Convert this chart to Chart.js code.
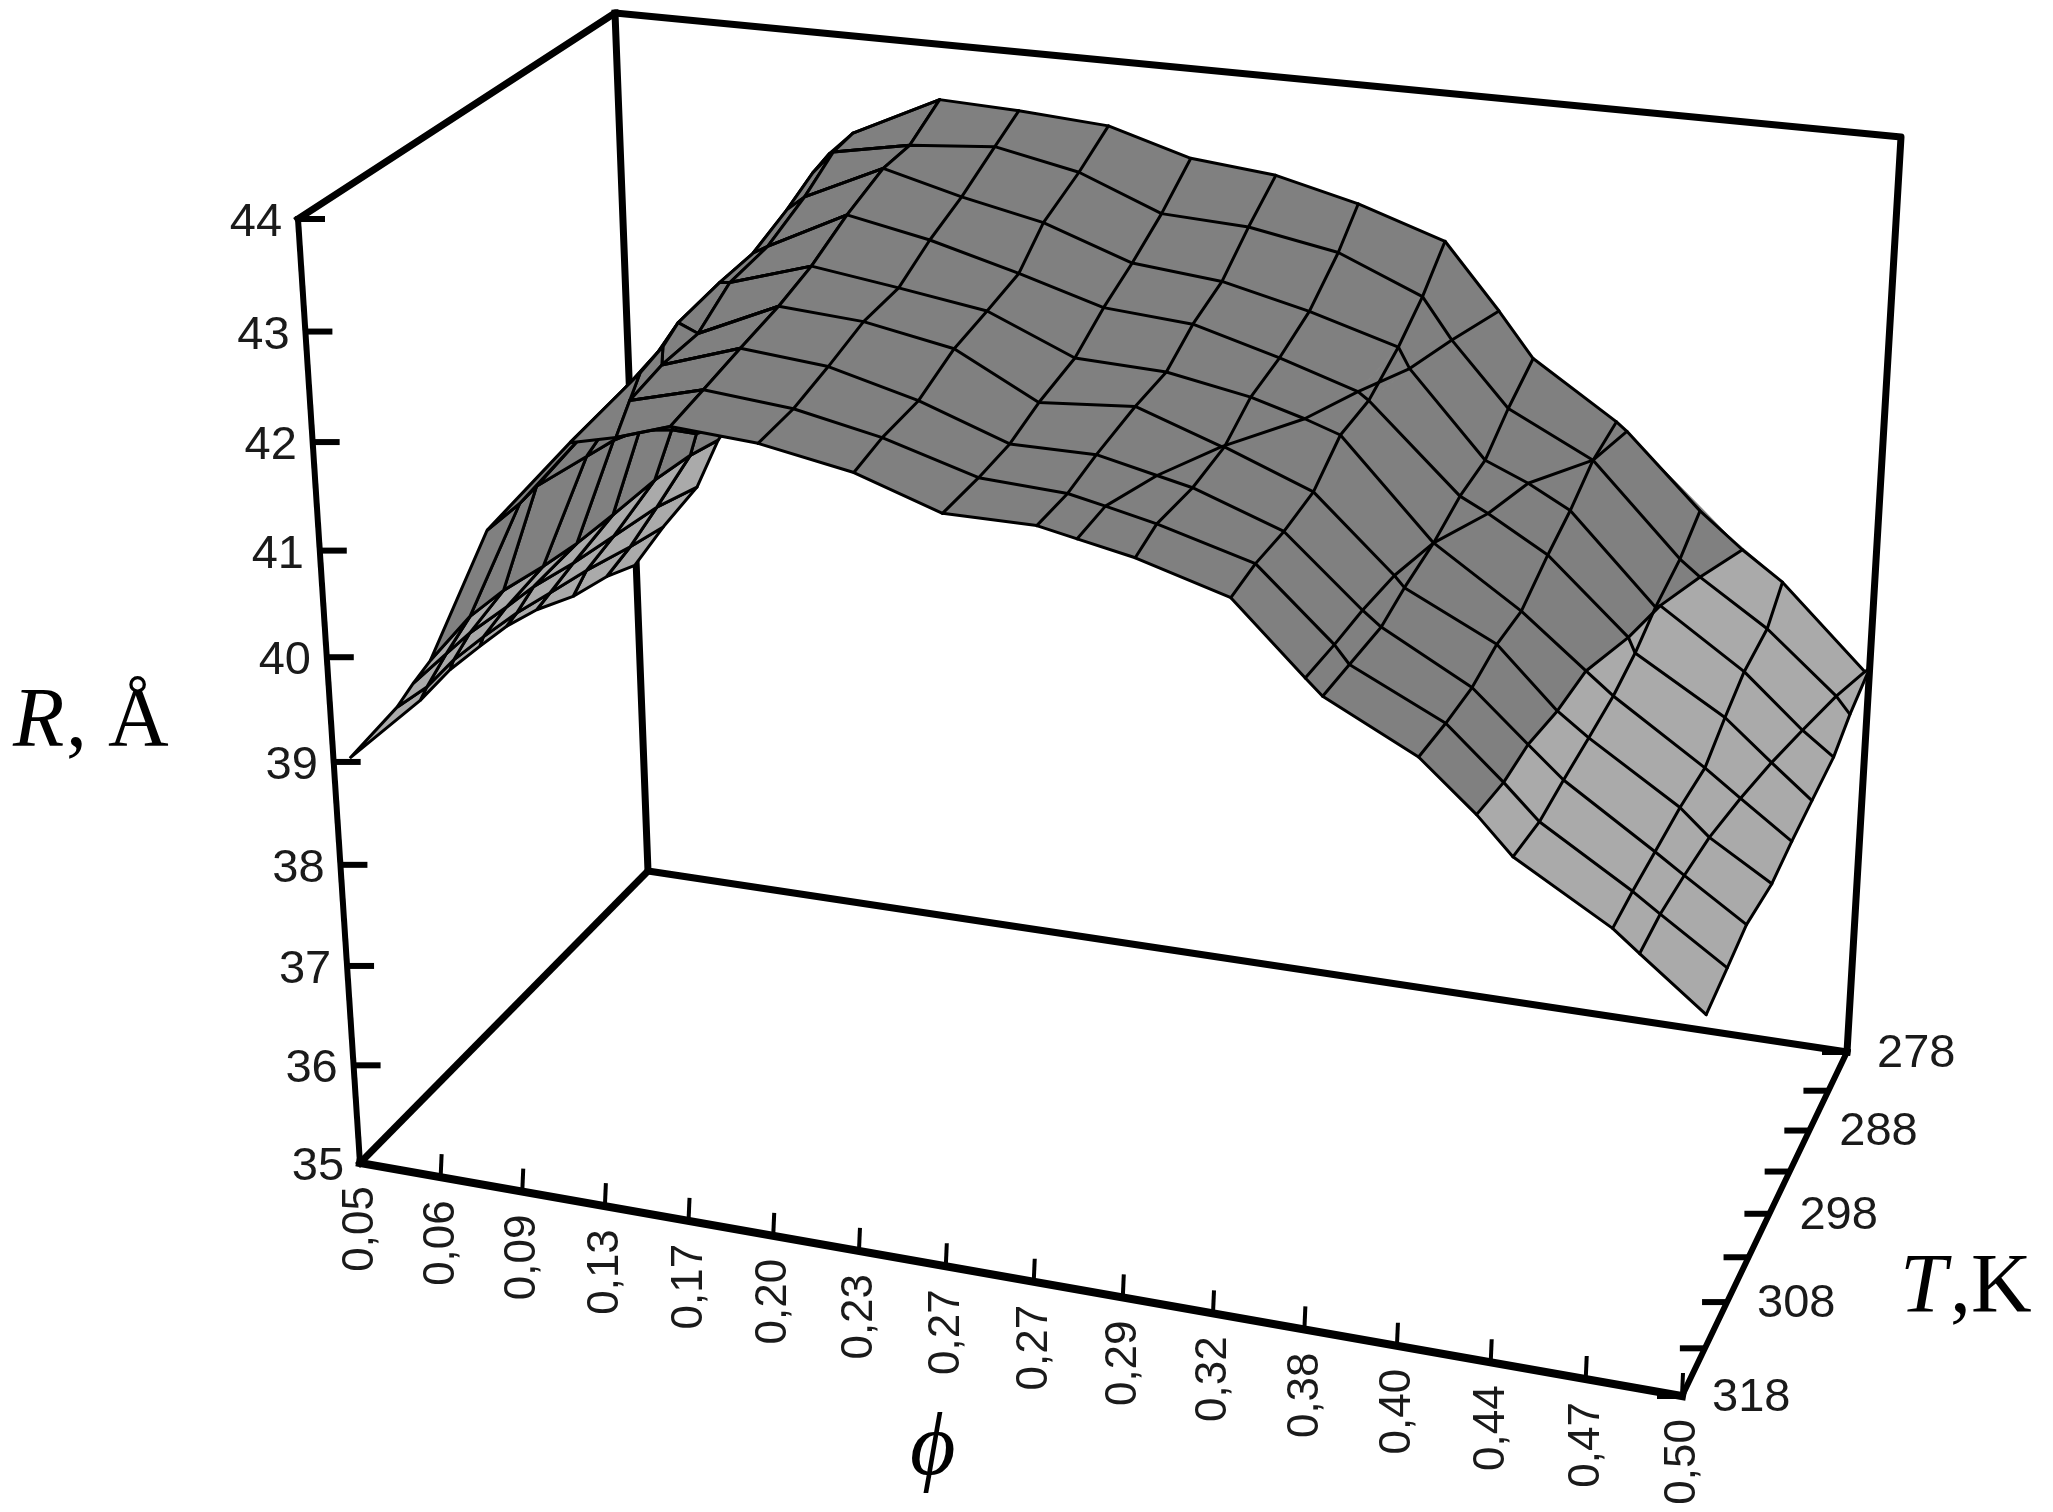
<!DOCTYPE html>
<html>
<head>
<meta charset="utf-8">
<title>R(phi, T)</title>
<script src="https://cdn.jsdelivr.net/npm/chart.js@4"></script>
<style>
    html, body { margin: 0; background: #fff; }
    canvas { display: block; }
</style>
</head>
<body>
<canvas id="chart" width="2053" height="1512"></canvas>
<script>
/* ---------- Data ---------- */
const phiLabels = ['0,05', '0,06', '0,09', '0,13', '0,17', '0,20', '0,23', '0,27', '0,27', '0,29', '0,32', '0,38', '0,40', '0,44', '0,47', '0,50'];
const tempTicks = [278, 283, 288, 293, 298, 303, 308, 313, 318];
const tempLabels = [278, 288, 298, 308, 318];
const radiusTicks = [35, 36, 37, 38, 39, 40, 41, 42, 43, 44];

// mesh rows, front edge first
const meshTemps = [318, 313, 308, 303, 298, 293, 288, 283, 278];

// position of every mesh vertex along the phi axis, in tick steps
const meshPhi = [
    [0.20, 0.81, 1.02, 1.24, 1.99, 2.99, 3.51, 4.12, 5.08, 6.11, 7.05, 8.04, 8.46, 9.06, 10.04, 10.81, 10.99, 11.97, 12.57, 12.95, 13.97, 14.25, 14.94],
    [0.57, 0.66, 0.92, 1.23, 1.89, 3.35, 3.22, 4.06, 5.06, 6.03, 7.07, 8.02, 8.42, 8.96, 9.99, 10.82, 10.98, 11.98, 12.59, 12.97, 13.94, 14.23, 14.93],
    [0.44, 0.49, 0.71, 1.15, 1.61, 3.17, 3.15, 4.06, 5.05, 6.05, 7.05, 7.99, 8.64, 9.02, 9.99, 10.83, 11.03, 11.99, 12.59, 12.97, 13.94, 14.25, 14.91],
    [0.32, 0.37, 0.68, 1.16, 1.75, 2.91, 3.14, 4.09, 5.06, 6.08, 7.02, 8.08, 9.02, 9.05, 10.01, 10.89, 11.00, 11.99, 12.65, 12.99, 13.97, 14.29, 14.96],
    [0.17, 0.31, 0.54, 1.11, 1.62, 2.98, 3.10, 4.07, 5.08, 6.09, 7.08, 8.10, 9.62, 9.03, 10.01, 11.04, 11.04, 12.00, 12.71, 13.01, 14.01, 14.40, 14.96],
    [0.08, 0.26, 0.58, 1.11, 1.49, 2.96, 3.14, 4.10, 5.07, 6.10, 7.07, 8.08, 9.92, 9.05, 10.04, 11.37, 11.06, 12.03, 12.93, 13.01, 14.00, 14.52, 14.97],
    [0.08, 0.27, 0.64, 1.20, 1.44, 2.97, 3.19, 4.15, 5.08, 6.04, 7.07, 8.10, 10.22, 9.09, 10.09, 11.56, 11.08, 12.03, 13.05, 13.00, 13.99, 14.65, 15.00],
    [0.06, 0.39, 0.76, 1.22, 1.31, 2.89, 3.15, 4.09, 5.12, 6.12, 7.09, 8.10, 10.43, 9.13, 10.09, 12.04, 11.08, 12.04, 13.27, 13.04, 14.03, 14.82, 14.98],
    [-0.02, 0.38, 0.85, 1.15, 1.31, 2.70, 3.00, 4.09, 5.06, 6.14, 7.12, 8.12, 10.71, 9.08, 10.08, 12.19, 11.11, 12.07, 13.53, 13.04, 13.99, 14.95, 15.00]
];

// R in angstrom at every mesh vertex
const meshRadius = [
    [39.06, 39.62, 39.87, 40.11, 41.40, 42.30, 42.40, 42.56, 42.51, 42.36, 42.10, 42.10, 42.03, 41.93, 41.69, 41.07, 40.93, 40.51, 40.07, 39.74, 39.23, 39.04, 38.58],
    [39.32, 39.46, 39.81, 40.20, 41.33, 42.67, 42.41, 42.59, 42.52, 42.36, 42.11, 42.07, 42.00, 41.90, 41.66, 41.03, 40.87, 40.46, 40.00, 39.69, 39.18, 39.01, 38.61],
    [39.27, 39.37, 39.66, 40.12, 41.16, 42.61, 42.44, 42.68, 42.61, 42.40, 42.11, 42.11, 41.99, 41.92, 41.63, 41.01, 40.88, 40.44, 39.99, 39.71, 39.17, 38.99, 38.62],
    [39.16, 39.26, 39.59, 40.04, 41.16, 42.53, 42.45, 42.79, 42.74, 42.59, 42.19, 42.26, 41.99, 41.99, 41.68, 41.01, 40.91, 40.50, 39.96, 39.75, 39.22, 38.98, 38.63],
    [39.02, 39.17, 39.46, 39.95, 41.01, 42.64, 42.65, 42.89, 42.78, 42.66, 42.32, 42.29, 42.01, 42.15, 41.90, 41.01, 41.01, 40.48, 40.00, 39.80, 39.24, 39.00, 38.66],
    [38.86, 39.05, 39.39, 39.93, 40.81, 42.65, 42.73, 43.11, 42.96, 42.74, 42.51, 42.45, 42.00, 42.23, 41.93, 41.01, 41.14, 40.69, 40.01, 39.87, 39.37, 39.00, 38.69],
    [38.68, 38.97, 39.36, 39.99, 40.52, 42.81, 42.95, 43.30, 43.11, 42.95, 42.66, 42.58, 41.96, 42.39, 42.15, 41.01, 41.18, 40.80, 40.00, 39.98, 39.47, 38.98, 38.76],
    [38.57, 38.92, 39.37, 39.95, 40.18, 42.91, 43.13, 43.27, 43.34, 43.18, 42.87, 42.83, 41.97, 42.68, 42.35, 40.98, 41.38, 40.98, 39.98, 40.13, 39.56, 38.99, 38.83],
    [38.37, 38.82, 39.29, 39.81, 40.00, 42.84, 43.06, 43.47, 43.44, 43.38, 43.15, 43.07, 42.00, 42.88, 42.61, 40.98, 41.58, 41.06, 39.96, 40.29, 39.69, 38.91, 38.95]
];

/* ---------- Camera: the box corners on screen ---------- */
const floorCorners = [[360, 1163], [1682, 1396], [1847, 1052], [648, 871]];
const topCorners = [[298, 219], [1762, 392], [1901, 137], [615, 13]];

function squareToQuad(quad) {
    const [[x0, y0], [x1, y1], [x2, y2], [x3, y3]] = quad;
    const dx1 = x1 - x2, dx2 = x3 - x2, sx = x0 - x1 + x2 - x3;
    const dy1 = y1 - y2, dy2 = y3 - y2, sy = y0 - y1 + y2 - y3;
    const den = dx1 * dy2 - dx2 * dy1;
    const g = (sx * dy2 - dx2 * sy) / den, h = (dx1 * sy - sx * dy1) / den;
    const a = x1 - x0 + g * x1, b = x3 - x0 + h * x3;
    const d = y1 - y0 + g * y1, e = y3 - y0 + h * y3;
    return (u, v) => {
        const w = g * u + h * v + 1;
        return [(a * u + b * v + x0) / w, (d * u + e * v + y0) / w];
    };
}
const floorMap = squareToQuad(floorCorners);
const topMap = squareToQuad(topCorners);

// phi in tick steps, T in K, R in angstrom -> x/y on the chart's scales
function project(phi, temp, radius) {
    const u = phi / (phiLabels.length - 1);
    const v = (318 - temp) / 40;
    const z = (radius - 35) / 9;
    const low = floorMap(u, v), high = topMap(u, v);
    const t = z / (z + (1 - z) * 1.083);
    return { x: low[0] + (high[0] - low[0]) * t, y: low[1] + (high[1] - low[1]) * t };
}

/* ---------- Datasets ---------- */
const DARK = '#808080', LIGHT = '#aaaaaa';
const datasets = [];

function addLine(points, width, cap) {
    datasets.push({
        data: points,
        showLine: true,
        fill: false,
        borderColor: '#000',
        borderWidth: width,
        borderCapStyle: cap || 'round',
        borderJoinStyle: 'round'
    });
}

function addCell(points, color, outlined) {
    datasets.push({
        data: [...points, points[0]],
        showLine: true,
        fill: 'shape',
        backgroundColor: color,
        borderColor: outlined ? '#000' : color,
        borderWidth: outlined ? 3 : 1,
        borderJoinStyle: 'round'
    });
}

const vertex = (row, col) => project(meshPhi[row][col], meshTemps[row], meshRadius[row][col]);
const cellPoints = (row, col) => [vertex(row, col), vertex(row, col + 1), vertex(row + 1, col + 1), vertex(row + 1, col)];

const rowCount = meshTemps.length, colCount = meshPhi[0].length;
const RIDGE_COL = 7;      // left of this the sheet folds away behind the ridge
const LIGHT_FROM = 18;    // cells from here on are the light ones

// column numbers of one mesh row, walking along the phi axis
function colsAlongPhi(row, first) {
    const cols = [];
    for (let col = first; col < colCount; col++) cols.push(col);
    return cols.sort((a, b) => meshPhi[row][a] - meshPhi[row][b]);
}

/* Box, behind the surface */
const P = project;
addLine([P(0, 318, 44), P(0, 278, 44), P(15, 278, 44), P(15, 278, 35)], 7, 'square');
addLine([P(0, 278, 44), P(0, 278, 35), P(15, 278, 35)], 7, 'square');
addLine([P(0, 318, 35), P(0, 278, 35)], 7, 'square');
addLine([P(0, 318, 44), P(0, 318, 35)], 6, 'square');
addLine([P(0, 318, 35), P(15, 318, 35)], 8, 'square');
addLine([P(15, 318, 35), P(15, 278, 35)], 6, 'square');

/* Fold at low phi: painted back to front, each cell with its outline */
for (let col = 0; col < RIDGE_COL; col++) {
    for (let row = rowCount - 2; row >= 0; row--) {
        addCell(cellPoints(row, col), col < 3 ? LIGHT : DARK, true);
    }
}

/* Main sheet: a dark base along phi, light cells over it, then dark again up to the border column */
for (let row = rowCount - 2; row >= 0; row--) {
    const near = colsAlongPhi(row, RIDGE_COL), far = colsAlongPhi(row + 1, RIDGE_COL);
    for (let k = 0; k < near.length - 1; k++) {
        addCell([vertex(row, near[k]), vertex(row, near[k + 1]), vertex(row + 1, far[k + 1]), vertex(row + 1, far[k])], DARK, false);
    }
}
for (let row = rowCount - 2; row >= 0; row--) {
    for (let col = LIGHT_FROM; col < colCount - 1; col++) addCell(cellPoints(row, col), LIGHT, false);
}
for (let row = rowCount - 2; row >= 0; row--) {
    addCell(cellPoints(row, LIGHT_FROM - 1), DARK, false);
}

/* Every mesh line of the main sheet on top */
for (let row = 0; row < rowCount; row++) {
    addLine(colsAlongPhi(row, RIDGE_COL - 1).map(col => vertex(row, col)), 3);
}
for (let col = RIDGE_COL; col < colCount; col++) {
    addLine(meshTemps.map((_, row) => vertex(row, col)), 3);
}

/* Ticks */
const shifted = (p, dx, dy) => ({ x: p.x + dx, y: p.y + dy });
radiusTicks.slice(1).forEach(r => {
    const p = P(0, 318, r);
    addLine([p, shifted(p, 27, 0)], 6, 'butt');
});
phiLabels.forEach((_, i) => {
    if (i === 0) return;
    const p = P(i, 318, 35);
    addLine([p, shifted(p, 1, -23)], 4, 'butt');
});
tempTicks.forEach(t => {
    const p = P(15, t, 35);
    addLine([p, shifted(p, -25, 0)], 6, 'butt');
});

/* ---------- Text ---------- */
const SANS = '"Liberation Sans", Arial, sans-serif';
const SERIF = '"Liberation Serif", "Times New Roman", serif';

const axisText = {
    id: 'axisText',
    afterDatasetsDraw(chart) {
        const { ctx, scales } = chart;
        const px = p => ({ x: scales.x.getPixelForValue(p.x), y: scales.y.getPixelForValue(p.y) });
        ctx.save();
        ctx.fillStyle = '#1a1a1a';
        ctx.textBaseline = 'middle';

        ctx.font = '47px ' + SANS;
        ctx.textAlign = 'center';
        radiusTicks.forEach(r => {
            const p = px(P(0, 318, r));
            ctx.fillText(String(r), p.x - 42, p.y + 4);
        });

        ctx.textAlign = 'left';
        tempLabels.forEach(t => {
            const p = px(P(15, t, 35));
            ctx.fillText(String(t), p.x + 30, p.y + 2);
        });

        ctx.font = '44px ' + SANS;
        ctx.textAlign = 'right';
        phiLabels.forEach((label, i) => {
            const p = px(P(i, 318, 35));
            ctx.save();
            ctx.translate(p.x + 1, p.y + 23);
            ctx.rotate(-Math.PI / 2);
            ctx.fillText(label, 0, 0);
            ctx.restore();
        });

        ctx.fillStyle = '#000';
        ctx.textAlign = 'left';
        ctx.textBaseline = 'alphabetic';
        ctx.font = 'italic 84px ' + SERIF;
        ctx.fillText('R', 13, 746);
        ctx.font = '84px ' + SERIF;
        ctx.fillText(', Å', 66, 746);
        ctx.font = 'italic 84px ' + SERIF;
        ctx.fillText('T', 1900, 1312);
        ctx.font = '84px ' + SERIF;
        ctx.fillText(',K', 1950, 1312);
        ctx.font = 'italic 88px ' + SERIF;
        ctx.fillText('ϕ', 910, 1474);
        ctx.restore();
    }
};

/* ---------- Chart ---------- */
new Chart(document.getElementById('chart'), {
    type: 'scatter',
    // chart.js paints the first dataset last
    data: { datasets: datasets.reverse() },
    options: {
        responsive: false,
        animation: false,
        layout: { padding: 0 },
        clip: false,
        elements: { point: { radius: 0, hoverRadius: 0 }, line: { tension: 0 } },
        plugins: { legend: { display: false }, tooltip: { enabled: false } },
        events: [],
        scales: {
            x: { type: 'linear', min: 0, max: 2053, display: false },
            y: { type: 'linear', min: 0, max: 1512, reverse: true, display: false }
        }
    },
    plugins: [axisText]
});
</script>
</body>
</html>
